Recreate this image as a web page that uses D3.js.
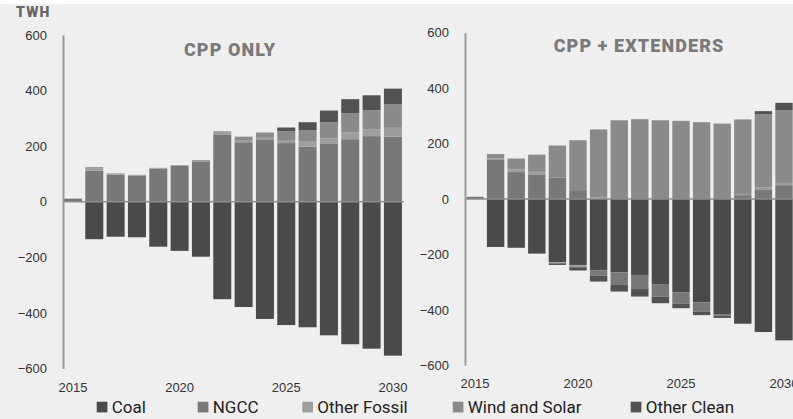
<!DOCTYPE html>
<html>
<head>
<meta charset="utf-8">
<script src="https://cdn.jsdelivr.net/npm/d3@7"></script>
<style>
  html, body { margin: 0; padding: 0; background: #efefef; }
  svg { display: block; }
</style>
</head>
<body>
<svg id="chart" width="793" height="419"></svg>
<script>
// ---------- DATA ----------
const years = [2015, 2016, 2017, 2018, 2019, 2020, 2021, 2022, 2023, 2024, 2025, 2026, 2027, 2028, 2029, 2030];
const seriesNames = ["Coal", "NGCC", "Other Fossil", "Wind and Solar", "Other Clean"];
const yTicks = [-600, -400, -200, 0, 200, 400, 600];
const xTicks = [2015, 2020, 2025, 2030];
const panelTitles = ["CPP ONLY", "CPP + EXTENDERS"];
const unitLabel = "TWH";

// CPP ONLY (TWh change)
const coalA   = [0, -135, -126, -128, -162, -177, -198, -351, -379, -422, -444, -452, -481, -513, -529, -554];
const ngccA   = [11, 112, 97, 94, 119, 129, 145, 240, 214, 222, 211, 198, 210, 225, 236, 234];
const fossilA = [0, 13, 5, 3, 3, 3, 5, 14, 8, 8, 11, 18, 18, 24, 25, 32];
const windA   = [0, 0, 0, 0, 0, 0, 0, 0, 12, 19, 32, 42, 58, 70, 68, 85];
const cleanA  = [0, 0, 0, 0, 0, 0, 0, 0, 0, 0, 13, 28, 42, 50, 54, 56];

// CPP + EXTENDERS (TWh change)
const coalB   = [0, -173, -176, -197, -228, -238, -258, -265, -274, -307, -337, -373, -415, -450, -480, -510];
const ngccB   = [8, 143, 97, 89, 77, 32, -19, -45, -51, -45, -41, -33, -6, 14, 35, 50];
const fossilB = [0, 4, 10, 9, -4, -8, 5, 0, 0, 0, 0, 0, 0, 4, 6, 8];
const windB   = [0, 15, 39, 62, 116, 180, 246, 284, 288, 284, 282, 277, 272, 269, 265, 263];
const cleanB  = [0, 0, 0, 0, -6, -12, -21, -24, -27, -24, -16, -13, -8, 0, 11, 26];

// ---------- STYLE ----------
const colors = {
  "Coal": "#4a4a4a",
  "NGCC": "#787878",
  "Other Fossil": "#9e9e9e",
  "Wind and Solar": "#8a8a8a",
  "Other Clean": "#525252"
};

const svg = d3.select("#chart");
svg.append("rect").attr("width", 793).attr("height", 419).attr("fill", "#efefef");
svg.append("rect").attr("width", 793).attr("height", 4).attr("fill", "#ffffff");

function buildRows(c, n, f, w, o) {
  return years.map((yr, i) => ({
    year: yr,
    "Coal": c[i], "NGCC": n[i], "Other Fossil": f[i], "Wind and Solar": w[i], "Other Clean": o[i]
  }));
}

const panels = [
  { rows: buildRows(coalA, ngccA, fossilA, windA, cleanA), title: panelTitles[0],
    axisX: 63, x0: 62.3, step: 21.33, yTop: 35, yBot: 368.4, titleX: 230, titleY: 56, xLabelY: 391.7 },
  { rows: buildRows(coalB, ngccB, fossilB, windB, cleanB), title: panelTitles[1],
    axisX: 465, x0: 464.7, step: 20.6, yTop: 32.7, yBot: 365.3, titleX: 639, titleY: 52, xLabelY: 388.3 }
];

const stack = d3.stack().keys(seriesNames).offset(d3.stackOffsetDiverging);

panels.forEach(p => {
  const g = svg.append("g");
  const x = d3.scaleBand()
    .domain(years)
    .range([p.x0, p.x0 + p.step * years.length])
    .paddingInner(0.156)
    .paddingOuter(0.078);
  const y = d3.scaleLinear().domain([-600, 600]).range([p.yBot, p.yTop]);

  const layers = stack(p.rows);
  g.selectAll("g.layer")
    .data(layers)
    .join("g")
    .attr("class", "layer")
    .attr("fill", d => colors[d.key])
    .selectAll("rect")
    .data(d => d)
    .join("rect")
    .attr("x", d => x(d.data.year))
    .attr("width", x.bandwidth())
    .attr("y", d => y(Math.max(d[0], d[1])))
    .attr("height", d => Math.abs(y(d[0]) - y(d[1])));

  // zero line
  g.append("line")
    .attr("x1", p.axisX).attr("x2", p.x0 + p.step * years.length)
    .attr("y1", y(0)).attr("y2", y(0))
    .attr("stroke", "#8c8c8c").attr("stroke-width", 1.5);

  // y axis
  const yAxis = d3.axisLeft(y).tickValues(yTicks).tickSize(0).tickSizeOuter(0).tickPadding(16);
  const ya = g.append("g").attr("transform", `translate(${p.axisX},0)`).call(yAxis);
  ya.select(".domain").attr("stroke", "#9a9a9a").attr("stroke-width", 2);
  ya.selectAll("text")
    .attr("font-family", "'Liberation Sans', Arial, sans-serif")
    .attr("font-size", 13)
    .attr("fill", "#333");

  // x axis
  const xAxis = d3.axisBottom(x).tickValues(xTicks).tickSize(0).tickPadding(0);
  const xa = g.append("g").attr("transform", `translate(0,${p.xLabelY})`).call(xAxis);
  xa.select(".domain").remove();
  xa.selectAll("text")
    .attr("dy", 0)
    .attr("font-family", "'Liberation Sans', Arial, sans-serif")
    .attr("font-size", 13)
    .attr("fill", "#333");

  // title
  g.append("text")
    .attr("x", p.titleX).attr("y", p.titleY)
    .attr("text-anchor", "middle")
    .attr("font-family", "Roboto, 'Liberation Sans', sans-serif")
    .attr("font-weight", 900)
    .attr("font-size", 18)
    .attr("letter-spacing", 1.1)
    .attr("fill", "#7a7a7a")
    .text(p.title);
});

// unit label
svg.append("text")
  .attr("x", 16).attr("y", 17)
  .attr("font-family", "Roboto, 'Liberation Sans', sans-serif")
  .attr("font-weight", 900)
  .attr("font-size", 14)
  .attr("letter-spacing", 1.2)
  .attr("fill", "#666")
  .text(unitLabel);

// legend
const legendX = [96.7, 197.7, 302.3, 452.7, 630.7];
const lg = svg.append("g");
seriesNames.forEach((name, i) => {
  lg.append("rect")
    .attr("x", legendX[i]).attr("y", 401.7)
    .attr("width", 10.7).attr("height", 10.7)
    .attr("fill", colors[name]);
  lg.append("text")
    .attr("x", legendX[i] + 15).attr("y", 412.7)
    .attr("font-family", "Roboto, 'Liberation Sans', sans-serif")
    .attr("font-size", 17)
    .attr("fill", "#222")
    .text(name);
});
</script>
</body>
</html>
